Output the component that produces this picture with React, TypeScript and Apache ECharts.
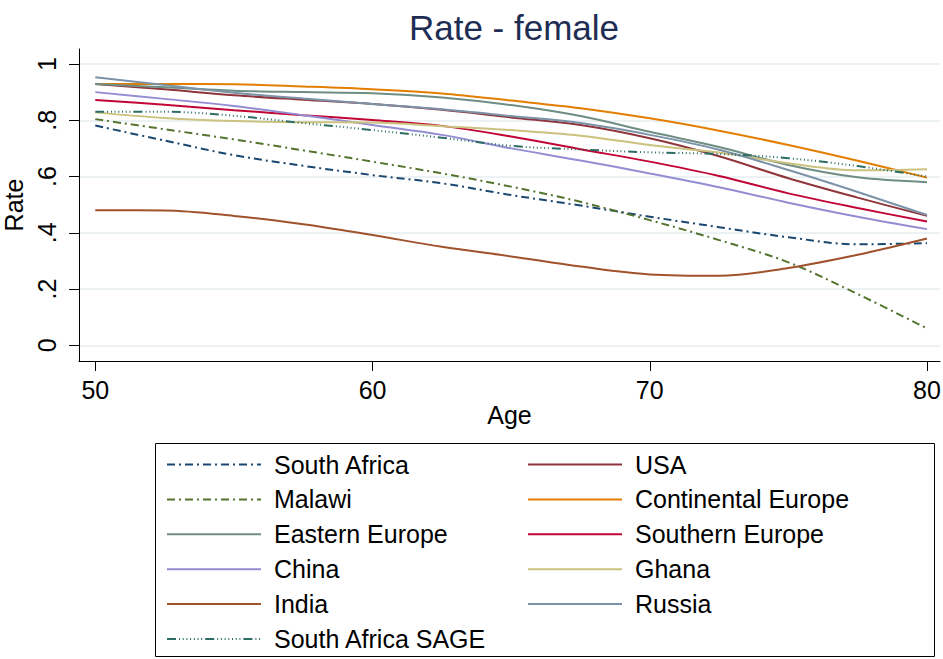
import React, { useEffect, useRef } from "react";
import * as echarts from "echarts";

const ages = [50, 52.5, 55, 57.5, 60, 62.5, 65, 67.5, 70, 72.5, 75, 77.5, 80];

const southAfrica = [0.781, 0.728, 0.676, 0.638, 0.605, 0.576, 0.534, 0.497, 0.457, 0.42, 0.384, 0.359, 0.363];
const usa = [0.929, 0.91, 0.889, 0.873, 0.858, 0.837, 0.81, 0.783, 0.736, 0.672, 0.594, 0.525, 0.46];
const malawi = [0.804, 0.768, 0.732, 0.693, 0.653, 0.611, 0.564, 0.51, 0.445, 0.374, 0.295, 0.182, 0.06];
const continentalEurope = [0.929, 0.929, 0.928, 0.92, 0.91, 0.895, 0.87, 0.843, 0.807, 0.763, 0.712, 0.656, 0.596];
const easternEurope = [0.929, 0.917, 0.905, 0.9, 0.896, 0.881, 0.854, 0.815, 0.759, 0.705, 0.641, 0.597, 0.58];
const southernEurope = [0.872, 0.855, 0.836, 0.818, 0.801, 0.78, 0.742, 0.697, 0.653, 0.602, 0.54, 0.488, 0.44];
const china = [0.9, 0.876, 0.851, 0.818, 0.783, 0.748, 0.7, 0.657, 0.611, 0.562, 0.507, 0.457, 0.413];
const ghana = [0.828, 0.808, 0.797, 0.793, 0.792, 0.779, 0.765, 0.745, 0.712, 0.685, 0.647, 0.622, 0.626];
const india = [0.48, 0.479, 0.46, 0.43, 0.392, 0.35, 0.316, 0.28, 0.252, 0.247, 0.275, 0.322, 0.38];
const russia = [0.953, 0.925, 0.898, 0.877, 0.858, 0.839, 0.815, 0.79, 0.748, 0.695, 0.623, 0.545, 0.463];
const southAfricaSage = [0.83, 0.83, 0.816, 0.79, 0.765, 0.738, 0.709, 0.696, 0.686, 0.68, 0.665, 0.637, 0.6];

const xTicks = [50, 60, 70, 80];
const yTicks = [0, 0.2, 0.4, 0.6, 0.8, 1];
const yTickLabels = ["0", ".2", ".4", ".6", ".8", "1"];

const leftColumn = ["South Africa", "Malawi", "Eastern Europe", "China", "India", "South Africa SAGE"];
const rightColumn = ["USA", "Continental Europe", "Southern Europe", "Ghana", "Russia"];

const FONT = '"Liberation Sans", Arial, Helvetica, sans-serif';

const dashDot = [8, 4, 2, 4];
const dotDash = [9, 3, 1, 2.7, 1, 2.7, 1, 2.7, 1, 2.7, 1, 2.7, 1, 2.7, 1, 3];

const seriesDefs = [
  { name: "South Africa", data: southAfrica, color: "#1a476f", dash: dashDot },
  { name: "USA", data: usa, color: "#90353b", dash: null },
  { name: "Malawi", data: malawi, color: "#55752f", dash: dashDot },
  { name: "Continental Europe", data: continentalEurope, color: "#e37e00", dash: null },
  { name: "Eastern Europe", data: easternEurope, color: "#6e8e84", dash: null },
  { name: "Southern Europe", data: southernEurope, color: "#c10534", dash: null },
  { name: "China", data: china, color: "#938dd2", dash: null },
  { name: "Ghana", data: ghana, color: "#cac27e", dash: null },
  { name: "India", data: india, color: "#a0522d", dash: null },
  { name: "Russia", data: russia, color: "#7b92a8", dash: null },
  { name: "South Africa SAGE", data: southAfricaSage, color: "#2d6d66", dash: dotDash },
];

const X_MIN = 49.412;
const X_MAX = 80.469;
const Y_MIN = -0.0558;
const Y_MAX = 1.0533;

export default function App() {
  const ref = useRef<HTMLDivElement>(null);

  useEffect(() => {
    if (!ref.current) return;
    const chart = echarts.init(ref.current, null, { renderer: "svg" });

    const legendCommon = {
      orient: "vertical" as const,
      top: 452,
      padding: 0,
      itemWidth: 94,
      itemHeight: 24,
      itemGap: 9.9,
      itemStyle: { opacity: 0 },
      selectedMode: false,
      textStyle: {
        fontFamily: FONT,
        fontSize: 25,
        color: "#000",
        lineHeight: 24,
        padding: [0, 0, 0, 8],
      },
    };

    chart.setOption({
      animation: false,
      backgroundColor: "#fff",
      textStyle: { fontFamily: FONT },
      grid: {
        left: 79,
        top: 49,
        width: 861,
        height: 312,
        containLabel: false,
        outerBoundsMode: "none",
      },
      xAxis: {
        type: "value",
        min: X_MIN,
        max: X_MAX,
        name: "Age",
        nameLocation: "middle",
        nameGap: 31,
        nameTextStyle: { fontFamily: FONT, fontSize: 25, color: "#000" },
        axisLine: { onZero: false, lineStyle: { color: "#000", width: 1 } },
        axisTick: { customValues: xTicks, length: 10, lineStyle: { color: "#000", width: 1 } },
        axisLabel: {
          customValues: xTicks,
          margin: 16,
          fontFamily: FONT,
          fontSize: 25,
          color: "#000",
          formatter: (v: number) => String(Math.round(v)),
        },
        splitLine: { show: false },
      },
      yAxis: {
        type: "value",
        min: Y_MIN,
        max: Y_MAX,
        name: "Rate",
        nameLocation: "middle",
        nameGap: 24,
        nameRotate: 90,
        nameTextStyle: { fontFamily: FONT, fontSize: 25, color: "#000" },
        axisLine: { show: true, onZero: false, lineStyle: { color: "#000", width: 1 } },
        axisTick: { show: true, customValues: yTicks, length: 10, lineStyle: { color: "#000", width: 1 } },
        axisLabel: {
          customValues: yTicks,
          rotate: 90,
          margin: 20,
          fontFamily: FONT,
          fontSize: 25,
          color: "#000",
          formatter: (v: number) => {
            const i = yTicks.findIndex((t) => Math.abs(t - v) < 1e-6);
            return i >= 0 ? yTickLabels[i] : "";
          },
        },
        splitLine: { show: true, lineStyle: { color: "#e6eef1", width: 1.5 } },
      },
      legend: [
        { ...legendCommon, left: 166, data: leftColumn },
        { ...legendCommon, left: 527, data: rightColumn },
      ],
      graphic: [
        {
          type: "text",
          x: 514,
          y: 27,
          style: {
            text: "Rate - female",
            fontFamily: FONT,
            fontSize: 35,
            fill: "#1e2d53",
            textAlign: "center",
            textVerticalAlign: "middle",
          },
        },
        {
          type: "rect",
          shape: { x: 155.5, y: 443.5, width: 779, height: 213 },
          style: { fill: "none", stroke: "#000", lineWidth: 1 },
          z: -1,
        },
      ],
      series: seriesDefs.map((s) => ({
        name: s.name,
        type: "line",
        data: ages.map((a, i) => [a, s.data[i]]),
        smooth: 0.35,
        symbol: "none",
        showSymbol: false,
        color: s.color,
        lineStyle: {
          color: s.color,
          width: 2,
          type: s.dash ? s.dash : "solid",
        },
        emphasis: { disabled: true },
      })),
    });

    return () => chart.dispose();
  }, []);

  return (
    <div
      ref={ref}
      style={{ position: "fixed", left: 0, top: 0, width: 943, height: 659 }}
    />
  );
}
